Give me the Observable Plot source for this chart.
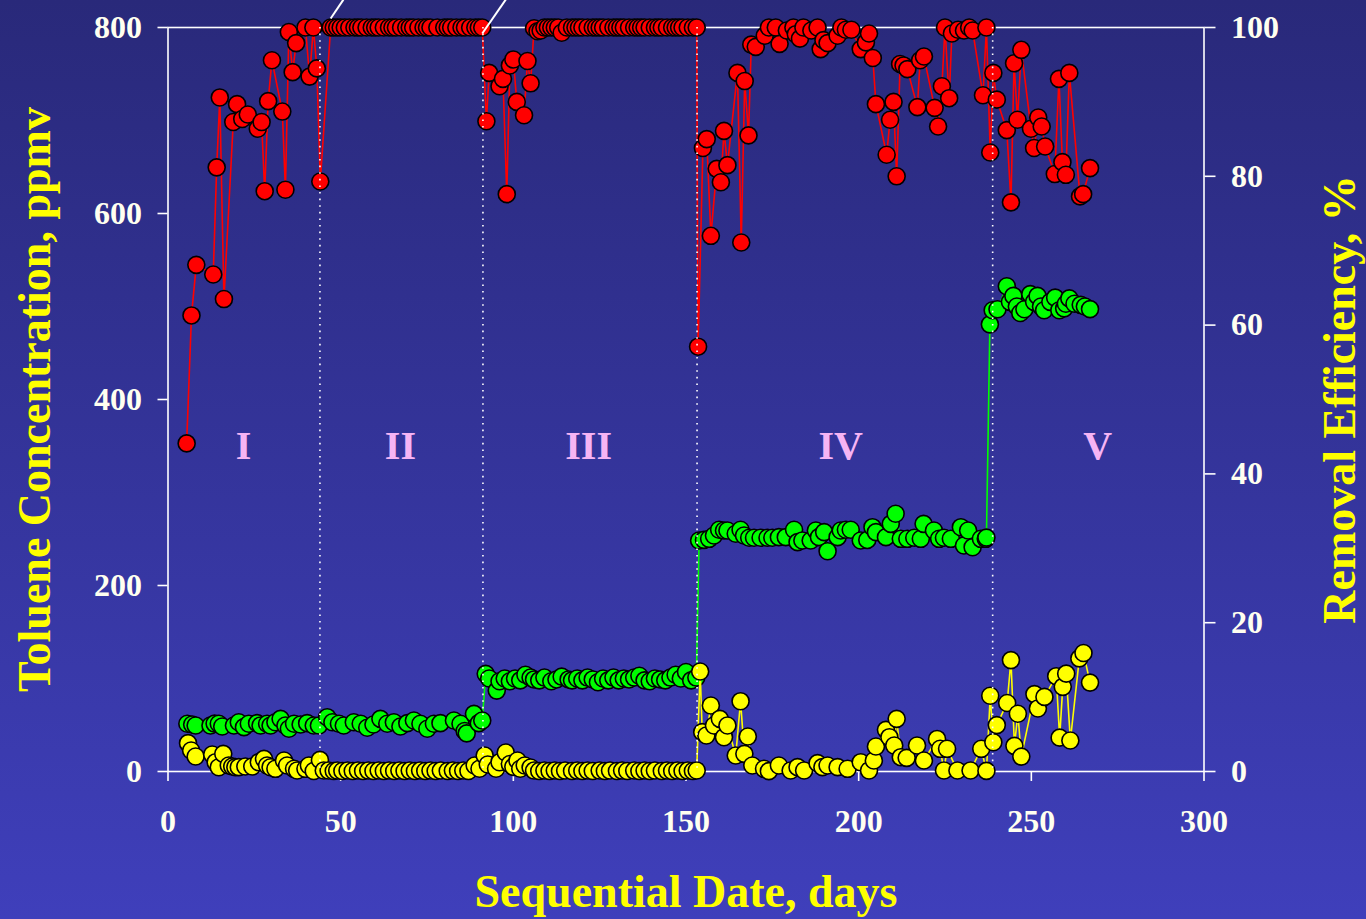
<!DOCTYPE html>
<html>
<head>
<meta charset="utf-8">
<script src="https://cdn.jsdelivr.net/npm/d3@7"></script>
<script src="https://cdn.jsdelivr.net/npm/@observablehq/plot@0.6"></script>
<style>
  html, body { margin: 0; padding: 0; width: 1366px; height: 919px; overflow: hidden;
    background: linear-gradient(to bottom, #29297a 0%, #3f3fbb 100%); }
  #chart svg { display: block; }
</style>
</head>
<body>
<div id="chart"></div>
<script>
// ---- Data (day, value) ----
// Inlet toluene concentration, ppmv (green)
const inlet = [
  [5.6,51.3],[7.0,50.5],[8.0,49.5],[12.3,49.5],[13.5,51.5],[14.7,51.3],[15.7,48.4],[19.1,49.5],[20.5,53.0],[22.0,47.7],
  [23.4,51.3],[25.8,52.0],[26.8,49.5],[28.7,51.3],[29.7,49.5],[31.1,53.0],[32.6,56.6],[34.0,49.5],[35.0,46.0],[36.5,51.3],
  [38.4,50.5],[40.3,52.0],[42.2,49.5],[43.7,49.5],[46.1,58.4],[47.6,53.0],[49.5,51.3],[50.9,49.5],[53.8,53.0],[55.8,51.3],
  [57.7,47.0],[59.5,50.5],[61.5,56.6],[63.5,51.3],[65.4,53.0],[67.3,48.4],[69.3,52.0],[71.2,54.8],[73.1,51.3],[75.1,46.0],
  [77.0,51.3],[78.9,52.0],[82.8,54.8],[84.7,51.3],[85.9,43.5],[86.5,41.0],[88.6,62.0],[90.0,52.0],[91.0,54.8],
  [92.0,105],[93.0,100],[95.2,87],[96.0,97],[97.5,100],[99.0,97],[100.5,100],[102.0,98],[103.5,104],[105.0,101],
  [106.0,99],[107.5,98],[109.0,101],[111.0,97],[112.5,99],[114.0,102],[116.0,99],[117.0,98],[118.5,100],[120.0,98],
  [121.5,101],[123.0,99],[124.5,96],[126.0,100],[127.5,98],[129.0,101],[130.5,98],[132.0,100],[133.5,99],[135.0,101],
  [136.5,103],[138.0,98],[139.5,97],[141.0,100],[142.5,99],[144.0,98],[145.5,101],[147.0,104],[148.5,100],[150.0,107],
  [151.5,98],[153.0,101],
  [153.8,248.4],[155.2,249.1],[156.7,250.2],[158.1,253.8],[159.6,259.9],[161.0,259.1],[162.0,259.1],[164.4,255.6],[165.8,259.9],[166.8,253.8],
  [168.3,251.3],[169.7,251.3],[171.6,251.3],[173.6,251.3],[175.0,251.3],[176.9,252.0],[178.9,252.0],[181.3,259.9],[182.3,246.6],[183.7,248.4],
  [186.1,248.4],[187.6,259.1],[188.5,252.0],[190.0,257.4],[191.0,236.9],[193.9,252.0],[194.8,259.1],[196.3,259.9],[197.7,259.9],[200.6,248.4],
  [202.5,249.0],[204.0,262.7],[205.0,257.4],[207.9,252.0],[209.3,266.3],[210.7,277.1],[212.2,250.2],[214.1,250.2],[216.1,251.3],[218.0,250.2],
  [218.8,266.3],[221.8,259.1],[223.3,250.2],[224.7,251.3],[226.7,250.2],[229.6,262.7],[230.5,243.0],[231.7,259.1],[233.0,241.2],[235.4,250.2],
  [236.8,250.2],[237.0,251.5],
  [238.0,480.8],[238.8,496],[240.2,497],[242.9,521.8],[243.8,505],[244.8,511.4],[245.8,500],[246.8,493],[248.0,497],[249.7,513.3],
  [250.8,505],[251.8,511.4],[252.8,500],[253.7,496],[255.5,505],[256.9,509.5],[258.1,496],[259.5,498],[260.0,503],[261.0,508.7],
  [262.5,503],[264.3,501.8],[265.5,500],[267.0,497.2]
];
// Outlet toluene concentration, ppmv (yellow)
const outlet = [
  [5.8,30.5],[6.7,22.6],[8.0,16.1],[12.8,18.3],[13.8,10.0],[14.7,4.6],[16.0,19.0],[17.6,6.5],[18.6,5.4],[19.5,4.7],
  [20.5,4.7],[22.4,5.4],[24.4,5.4],[26.3,10.0],[27.8,13.6],[28.7,6.5],[29.7,4.6],[31.1,2.9],[33.6,11.8],[34.5,6.5],
  [36.5,2.9],[37.4,1.1],[39.8,2.9],[40.8,6.5],[42.2,0.5],[44.0,12.5],[45.1,1.1],[46.5,1.0],[48.0,0.5],[49.0,1.0],
  [50.5,0.5],[52.0,1.0],[53.5,0.5],[55.0,1.0],[56.5,0.5],[58.0,1.0],[59.5,0.5],[61.0,1.0],[62.5,0.5],[64.0,1.0],
  [65.5,0.5],[67.0,1.0],[68.5,0.5],[70.0,1.0],[71.5,0.5],[73.0,1.0],[74.5,0.5],[76.0,1.0],[77.5,0.5],[79.0,1.0],
  [81.0,0.5],[82.5,1.0],[84.0,0.5],[85.5,1.0],[87.0,0.5],[88.8,6.5],[90.2,3.0],[91.7,17.2],
  [92.6,7.5],[95.0,3.0],[96.0,10.0],[97.8,20.4],[99.0,8.0],[100.0,5.0],[101.2,11.8],[102.0,3.0],[103.3,6.5],[105.0,4.3],
  [106.0,1.0],[107.5,0.5],[109.0,1.0],[110.5,0.5],[112.0,1.0],[113.5,0.5],[115.0,1.0],[117.0,0.5],[118.5,1.0],[120.0,0.5],
  [121.5,1.0],[123.0,0.5],[125.0,1.0],[126.5,0.5],[128.0,1.0],[130.0,0.5],[131.5,1.0],[133.0,0.5],[135.0,1.0],[136.5,0.5],
  [138.0,1.0],[139.5,0.5],[141.0,1.0],[143.0,0.5],[144.5,1.0],[146.0,0.5],[147.5,1.0],[149.0,0.5],[150.5,1.0],[152.0,0.5],
  [153.1,1.1],
  [154.1,107.5],[154.7,42.3],[155.9,38.7],[157.2,71.0],[158.1,49.5],[159.8,56.6],[161.0,36.9],[162.0,49.5],[164.4,17.2],[165.8,75.6],
  [166.9,19.0],[167.9,37.6],[169.2,6.5],[172.6,2.9],[174.0,0.4],[176.9,6.5],[180.3,1.1],[182.3,4.7],[184.2,1.1],[188.1,9.0],
  [189.5,4.7],[191.0,6.5],[193.9,4.7],[196.8,2.9],[200.6,10.0],[203.0,1.1],[204.4,11.8],[205.0,26.9],[207.9,44.8],[208.9,36.9],
  [210.3,28.0],[211.0,56.6],[212.2,15.4],[213.9,14.7],[216.9,28.0],[218.9,11.8],[222.7,35.0],[223.6,24.4],[224.7,1.1],[225.6,24.4],
  [228.6,1.1],[232.4,1.1],[235.5,24.4],[237.0,0.7],
  [238.1,81.5],[239.0,31.4],[240.0,49.9],[243.0,73.7],[244.1,119.8],[245.1,27.6],[246.1,62.1],[247.1,16.0],[250.9,83.2],[251.9,67.8],
  [253.8,80.2],[257.2,102.5],[258.2,36.4],[259.1,91.0],[260.1,105.2],[261.3,33.3],[263.9,121.6],[265.1,127.4],[267.0,95.6]
];
// Removal efficiency, % (red, right axis)
const efficiency = [
  [5.4,44.1],[6.8,61.3],[8.2,68.1],[13.1,66.8],[14.1,81.2],[15.0,90.6],[16.2,63.5],[18.9,87.3],[20.0,89.7],[21.5,87.7],
  [23.1,88.3],[26.0,86.4],[27.1,87.3],[28.0,78.0],[29.0,90.1],[30.1,95.6],[33.1,88.7],[34.0,78.2],[35.0,99.4],[36.1,94.0],
  [37.1,97.9],[39.8,100],[41.0,93.4],[42.1,100],[43.1,94.5],[44.1,79.3],[47.1,100],[48.0,100],[49.0,100],[50.0,100],
  [51.2,100],[52.5,100],[54.0,100],[55.0,100],[56.0,100],[57.5,100],[59.0,100],[60.0,100],[61.0,100],[62.5,100],
  [64.0,100],[65.0,100],[66.0,100],[67.5,100],[69.0,100],[70.0,100],[71.0,100],[72.5,100],[74.0,100],[75.0,100],
  [76.0,100],[78.0,100],[80.0,100],[81.0,100],[82.0,100],[83.5,100],[85.0,100],[86.0,100],[87.5,100],[89.0,100],
  [90.0,100],[91.0,100],
  [92.2,87.4],[93.0,93.9],[96.0,92.1],[97.0,93.1],[98.1,77.6],[99.0,94.9],[100.0,95.7],[101.0,90.0],[103.1,88.2],[104.1,95.5],
  [105.0,92.5],[106.0,99.9],[107.0,99.5],[107.9,99.6],[109.0,100],[110.0,100],[111.0,100],[112.0,100],[113.0,100],[114.0,99.3],
  [115.5,100],[117.0,100],[118.0,100],[119.0,100],[120.0,100],[121.5,100],[123.0,100],[124.0,100],[125.0,100],[126.0,100],
  [127.5,100],[129.0,100],[130.0,100],[131.0,100],[132.0,100],[133.5,100],[135.0,100],[136.0,100],[137.0,100],[138.0,100],
  [139.5,100],[141.0,100],[142.0,100],[143.0,100],[144.5,100],[146.0,100],[147.0,100],[148.0,100],[149.0,100],[150.5,100],
  [152.0,100],[153.1,100],
  [153.5,57.1],[154.9,83.8],[156.0,85.0],[157.2,72.0],[158.9,81.0],[160.1,79.2],[161.0,86.1],[162.0,81.5],[164.9,93.9],[166.0,71.1],
  [167.0,92.8],[168.1,85.5],[168.9,97.7],[170.2,97.4],[172.8,98.9],[174.0,100],[176.0,100],[177.1,97.8],[179.2,99.6],[181.1,100],
  [181.8,99.1],[183.0,98.5],[184.0,100],[186.3,99.6],[188.1,100],[189.0,97.1],[189.8,98.3],[191.0,97.9],[193.9,98.9],[195.0,100],
  [196.3,99.7],[197.9,99.7],[200.6,97.1],[202.1,98.0],[203.0,99.2],[204.1,95.9],[205.0,89.7],[208.1,82.9],[209.1,87.6],[210.1,90.0],
  [211.0,80.0],[212.0,95.1],[213.0,94.9],[214.1,94.4],[217.0,89.3],[217.8,95.6],[218.9,96.1],[222.0,89.2],[223.0,86.7],[224.1,92.1],
  [225.0,100],[226.2,90.5],[227.0,99.2],[228.8,99.7],[230.5,99.6],[232.0,100],[233.0,99.6],[236.0,90.9],[237.0,100],[238.1,83.2],
  [239.0,93.9],[240.0,90.3],[242.9,86.2],[244.1,76.5],[245.0,95.2],[246.0,87.6],[247.1,97.0],[249.9,86.4],[250.8,83.8],[252.0,87.9],
  [253.0,86.7],[254.0,84.0],[256.8,80.3],[258.0,93.1],[259.0,81.9],[260.0,80.2],[261.0,93.9],[264.1,77.3],[265.0,77.6],[267.0,81.1]
];
// Phase boundaries (days) and labels
const phaseBounds = [44.0, 91.2, 153.2, 238.8];
const phaseNames = ["I", "II", "III", "IV", "V"];
const phaseLabelDays = [21.9, 67.3, 121.8, 194.8, 269.2];
const phaseLabelLevel = 350;
// Tick values
const xTicks = [0, 50, 100, 150, 200, 250, 300];
const yTicks = [0, 200, 400, 600, 800];
const effTicks = [0, 20, 40, 60, 80, 100];
const effMax = 100, ppmvMax = 800;
// Pointer strokes leaving the top of the frame (day, ppmv)
const pointers = [
  {x1: 47.1, y1: 809.7, x2: 50.8, y2: 830},
  {x1: 91.0, y1: 793.5, x2: 97.8, y2: 830}
];

const toRow = ([d, v]) => ({day: d, value: v});
const inletRows = inlet.map(toRow);
const outletRows = outlet.map(toRow);
const effRows = efficiency.map(toRow);
const effToY = v => v * ppmvMax / effMax;
const labels = phaseNames.map((n, i) => ({name: n, day: phaseLabelDays[i], level: phaseLabelLevel}));

const font = "'Liberation Serif', 'Times New Roman', serif";
const tickFill = "#fffff0";
const dotR = 8.5;

const chart = Plot.plot({
  width: 1366,
  height: 919,
  marginLeft: 167.5,
  marginRight: 162.5,
  marginTop: 27,
  marginBottom: 148,
  style: {background: "transparent", fontFamily: font, color: tickFill, overflow: "visible"},
  x: {domain: [0, 300]},
  y: {domain: [0, 800]},
  marks: [
    Plot.frame({stroke: "white", strokeWidth: 1.6}),
    Plot.axisX({ticks: xTicks, tickSize: 10, tickPadding: 28, fontSize: 32, fontWeight: "bold",
      stroke: "white", strokeWidth: 1.6, fill: tickFill, label: null}),
    Plot.axisY({ticks: yTicks, anchor: "left", tickSize: 10, tickPadding: 16, fontSize: 32, fontWeight: "bold",
      stroke: "white", strokeWidth: 1.6, fill: tickFill, label: null}),
    Plot.axisY({ticks: effTicks.map(effToY), anchor: "right", tickFormat: d => d * effMax / ppmvMax,
      tickSize: 11, tickPadding: 16, fontSize: 32, fontWeight: "bold",
      stroke: "white", strokeWidth: 1.6, fill: tickFill, label: null}),
    Plot.text(["Toluene Concentration, ppmv"], {frameAnchor: "left", dx: -133, rotate: -90,
      textAnchor: "middle", lineAnchor: "middle",
      fontSize: 46, fontWeight: "bold", fill: "#ffff00", fontFamily: font}),
    Plot.text(["Removal Efficiency, %"], {frameAnchor: "right", dx: 136, rotate: -90,
      textAnchor: "middle", lineAnchor: "middle",
      fontSize: 46, fontWeight: "bold", fill: "#ffff00", fontFamily: font}),
    Plot.text(["Sequential Date, days"], {frameAnchor: "bottom", dy: 121,
      textAnchor: "middle", lineAnchor: "middle",
      fontSize: 46, fontWeight: "bold", fill: "#ffff00", fontFamily: font}),
    Plot.text(labels, {x: "day", y: "level", text: "name", fontSize: 40, fontWeight: "bold",
      fill: "#f6b4f4", fontFamily: font}),
    Plot.line(inletRows, {x: "day", y: "value", stroke: "#00ff00", strokeWidth: 1.6}),
    Plot.dot(inletRows, {x: "day", y: "value", r: dotR, fill: "#00ff00", stroke: "black", strokeWidth: 1.6}),
    Plot.line(outletRows, {x: "day", y: "value", stroke: "#ffff00", strokeWidth: 1.6}),
    Plot.dot(outletRows, {x: "day", y: "value", r: dotR, fill: "#ffff00", stroke: "black", strokeWidth: 1.6}),
    Plot.line(effRows, {x: "day", y: d => effToY(d.value), stroke: "#ff0000", strokeWidth: 1.6}),
    Plot.dot(effRows, {x: "day", y: d => effToY(d.value), r: dotR, fill: "#ff0000", stroke: "black", strokeWidth: 1.6}),
    Plot.ruleX(phaseBounds, {stroke: "white", strokeWidth: 1.6, strokeDasharray: "1.6,5"}),
    Plot.link(pointers, {x1: "x1", y1: "y1", x2: "x2", y2: "y2", stroke: "white", strokeWidth: 2, clip: false})
  ]
});
document.getElementById("chart").appendChild(chart);
</script>
</body>
</html>
